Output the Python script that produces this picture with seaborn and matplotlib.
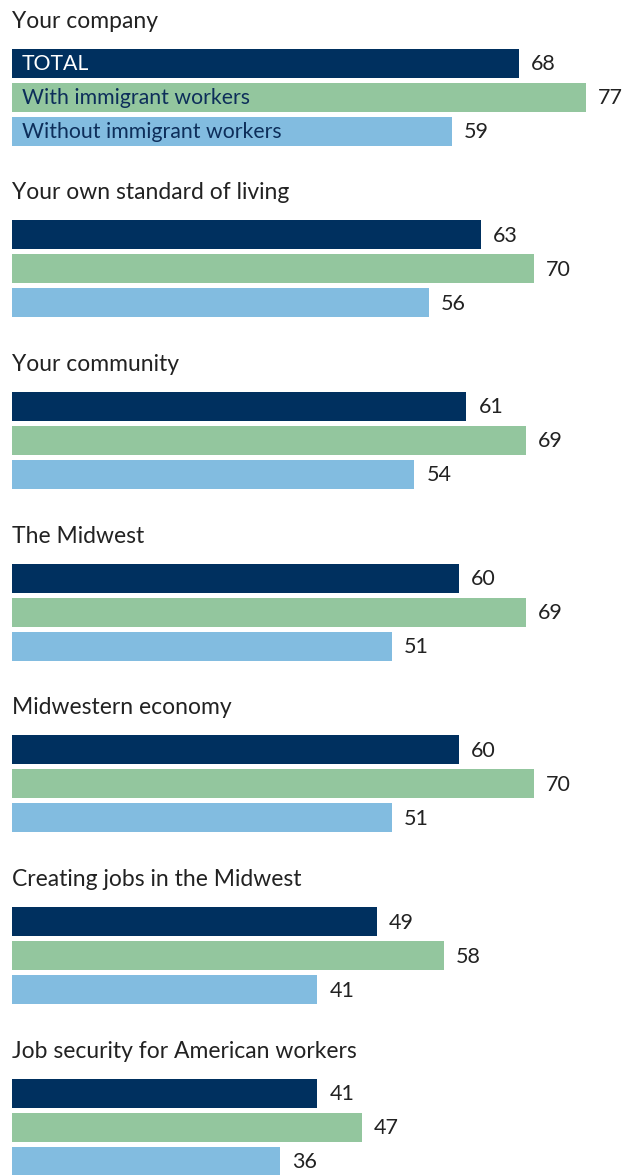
import matplotlib
matplotlib.use("Agg")
import matplotlib.pyplot as plt
import seaborn as sns
import pandas as pd

categories = [
    "Your company",
    "Your own standard of living",
    "Your community",
    "The Midwest",
    "Midwestern economy",
    "Creating jobs in the Midwest",
    "Job security for American workers",
]
series = ["TOTAL", "With immigrant workers", "Without immigrant workers"]
total = [68, 63, 61, 60, 60, 49, 41]
with_imm = [77, 70, 69, 69, 70, 58, 47]
without_imm = [59, 56, 54, 51, 51, 41, 36]

colors = ["#00305F", "#93C69E", "#82BCE0"]
label_colors = ["white", "#0D2E5A", "#0D2E5A"]

sns.set_style("white")
plt.rcParams["font.family"] = ["Lato", "DejaVu Sans"]

W, H = 628, 1175
fig = plt.figure(figsize=(W / 100, H / 100), dpi=100)

px_per_unit = 7.45
x0 = 12
xmin = -x0 / px_per_unit
xmax = (W - x0) / px_per_unit

first_center = 63
group_pitch = 171.7
bar_pitch = 34

for i, cat in enumerate(categories):
    vals = [total[i], with_imm[i], without_imm[i]]
    df = pd.DataFrame({"series": series, "value": vals})
    c1 = first_center + i * group_pitch
    top = c1 - bar_pitch / 2
    bottom = top + 3 * bar_pitch
    ax = fig.add_axes([0, 1 - bottom / H, 1, 3 * bar_pitch / H])
    sns.barplot(data=df, x="value", y="series", hue="series", palette=colors,
                orient="h", width=29 / 34, ax=ax, legend=False, saturation=1,
                linewidth=0, edgecolor="none")
    ax.set_xlim(xmin, xmax)
    ax.set_ylim(2.5, -0.5)
    ax.axis("off")
    for j, v in enumerate(vals):
        ax.text(v + 12 / px_per_unit, j + 0.03, str(v), va="center", ha="left",
                fontsize=15.5, color="#222222")
        if i == 0:
            ax.text(10 / px_per_unit, j + 0.03, series[j], va="center", ha="left",
                    fontsize=15.3, color=label_colors[j])
    fig.text(12 / W, 1 - (c1 - 42) / H, cat, va="center", ha="left",
             fontsize=16.5, color="#222222")

fig.savefig("out.png", dpi=100)
